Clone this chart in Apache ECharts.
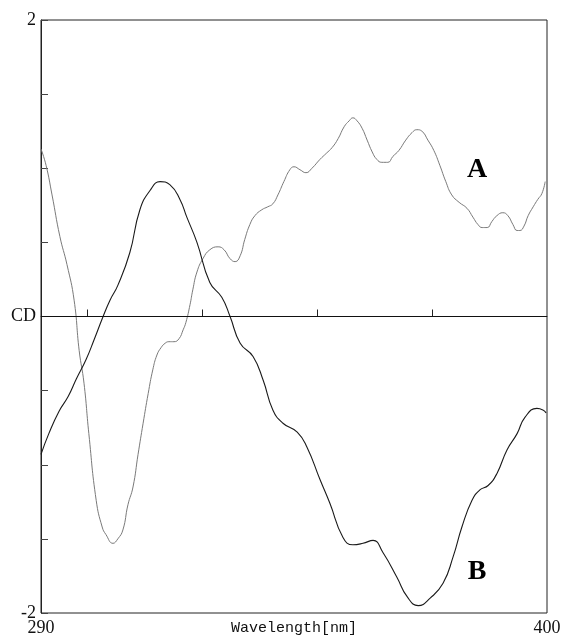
<!DOCTYPE html>
<html>
<head>
<meta charset="utf-8">
<script src="https://cdn.jsdelivr.net/npm/echarts@6/dist/echarts.min.js"></script>
<style>html,body{margin:0;padding:0;background:#fff}#c{width:562px;height:637px}</style>
</head>
<body>
<div id="c"></div>
<script>
var wavelengthA = [290,291.1,292.4,294.1,295.65,297.2,298.3,299.35,300.4,302.0,303.3,304.1,305.65,306.7,307.8,308.9,310.0,311.1,312.2,313.3,314.3,315.2,316.1,317.0,317.8,318.9,320.0,320.9,321.5,322.4,323.0,323.9,325.2,326.7,328.5,329.8,331.1,332.2,333.3,334.3,335.4,336.5,338.0,339.3,340.4,341.5,342.8,344.1,345.0,346.3,347.6,348.9,350.65,352.0,353.3,354.6,355.9,357.0,357.8,358.7,359.8,360.9,362.0,363.0,364.1,365.4,366.5,367.8,369.3,370.65,371.7,372.8,374.1,375.4,376.7,378.0,379.3,380.9,382.6,383.9,385.0,385.9,387.0,388.0,389.1,390.4,391.5,392.6,393.5,394.1,395.0,395.9,397.0,398.0,398.9,399.6];
var cdA = [1.13,1.02,0.82,0.54,0.35,0.11,-0.23,-0.45,-0.79,-1.24,-1.42,-1.47,-1.53,-1.50,-1.44,-1.27,-1.15,-0.93,-0.72,-0.52,-0.36,-0.26,-0.21,-0.18,-0.17,-0.17,-0.15,-0.09,-0.04,0.08,0.18,0.30,0.39,0.45,0.47,0.45,0.39,0.37,0.41,0.52,0.62,0.68,0.72,0.74,0.76,0.82,0.91,0.99,1.01,0.99,0.97,1.00,1.06,1.10,1.14,1.20,1.28,1.32,1.34,1.32,1.27,1.19,1.11,1.06,1.04,1.04,1.08,1.12,1.19,1.24,1.26,1.25,1.19,1.12,1.02,0.91,0.82,0.77,0.73,0.67,0.62,0.60,0.60,0.64,0.68,0.70,0.68,0.62,0.58,0.58,0.61,0.68,0.74,0.79,0.83,0.91];
var wavelengthB = [290.0,291.7,293.9,295.9,297.7,299.8,301.5,303.5,305.0,306.7,309.3,311.5,313.7,315.9,318.0,320.2,321.7,323.9,326.7,329.3,331.1,333.3,336.1,338.3,340.4,342.6,345.7,347.8,350.65,352.8,355.65,357.8,360.0,362.2,364.3,367.4,369.6,372.0,374.6,377.4,379.6,381.5,383.7,385.4,387.2,389.1,391.3,393.5,395.2,397.8,399.1,399.8];
var cdB = [-0.93,-0.79,-0.64,-0.54,-0.42,-0.29,-0.16,0.0,0.11,0.21,0.43,0.72,0.85,0.91,0.89,0.79,0.67,0.50,0.23,0.13,0.0,-0.18,-0.27,-0.43,-0.63,-0.72,-0.78,-0.88,-1.10,-1.26,-1.49,-1.54,-1.53,-1.51,-1.59,-1.76,-1.89,-1.95,-1.90,-1.80,-1.62,-1.42,-1.24,-1.17,-1.14,-1.06,-0.90,-0.79,-0.68,-0.62,-0.63,-0.65];
var xTickValues = [300,325,350,375];
var xLabelValues = [290,400];
var yLabelMap = {'2':'2','0':'CD','-2':'-2'};
var labelA = {name:'A', coord:[384.8, 0.99]};
var labelB = {name:'B', coord:[384.8, -1.72]};

function pairs(xs, ys){ return xs.map(function(x,i){ return [x, ys[i]]; }); }

var chart = echarts.init(document.getElementById('c'), null, {renderer:'canvas'});
var serif = '"Liberation Serif","DejaVu Serif",serif';
chart.setOption({
  animation:false,
  backgroundColor:'#fff',
  grid:{left:41,right:15,top:20,bottom:24,containLabel:false,outerBoundsMode:'none',show:true,borderColor:'#222',borderWidth:1,backgroundColor:'transparent'},
  xAxis:{
    type:'value',min:290,max:400,
    name:'Wavelength[nm]',nameLocation:'middle',nameGap:8,nameMoveOverlap:false,
    nameTextStyle:{fontFamily:'"Liberation Mono",monospace',fontSize:15,color:'#111'},
    axisLine:{show:true,lineStyle:{color:'#222',width:1}},
    axisTick:{show:true,inside:true,length:7,customValues:xTickValues,lineStyle:{color:'#222'}},
    axisLabel:{show:true,customValues:xLabelValues,margin:6,fontFamily:serif,fontSize:18,color:'#111'},
    splitLine:{show:false}
  },
  yAxis:{
    type:'value',min:-2,max:2,interval:0.5,
    axisLine:{show:true,lineStyle:{color:'#222',width:1}},
    axisTick:{show:true,inside:true,length:7,lineStyle:{color:'#444'}},
    axisLabel:{show:true,margin:5,fontFamily:serif,fontSize:18,color:'#111',
      formatter:function(v){ var k=String(v); return yLabelMap.hasOwnProperty(k)?yLabelMap[k]:''; }},
    splitLine:{show:false}
  },
  series:[
    {name:'A',type:'line',data:pairs(wavelengthA,cdA),smooth:0.5,showSymbol:false,symbol:'none',
      lineStyle:{color:'#7a7a7a',width:1},
      markLine:{silent:true,symbol:'none',label:{show:false},lineStyle:{color:'#111',width:1,type:'solid'},data:[{yAxis:0}]},
      markPoint:{symbol:'circle',symbolSize:0,label:{show:true,formatter:'{b}',fontFamily:serif,fontWeight:'bold',fontSize:28,color:'#000'},
        data:[labelA]}
    },
    {name:'B',type:'line',data:pairs(wavelengthB,cdB),smooth:0.5,showSymbol:false,symbol:'none',
      lineStyle:{color:'#1a1a1a',width:1.1},
      markPoint:{symbol:'circle',symbolSize:0,label:{show:true,formatter:'{b}',fontFamily:serif,fontWeight:'bold',fontSize:28,color:'#000'},
        data:[labelB]}
    }
  ]
});
</script>
</body>
</html>
